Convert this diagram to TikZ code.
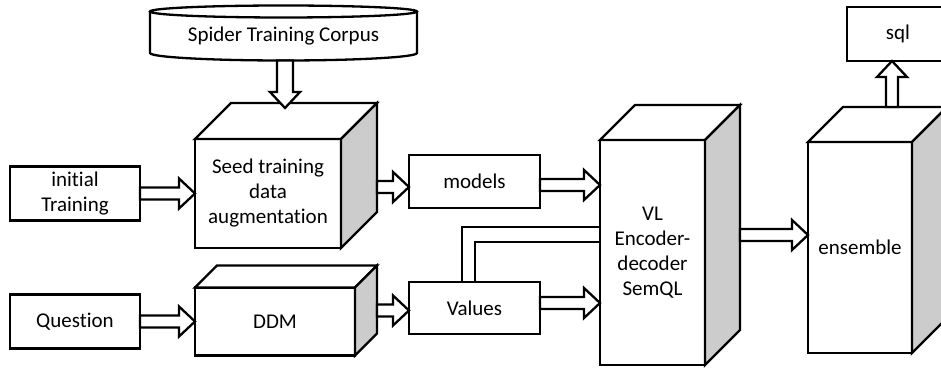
\documentclass[tikz,border=0pt]{standalone}
\usepackage{fontspec}
\setmainfont{Carlito}[Ligatures=NoCommon]
\usetikzlibrary{positioning,calc}

% top and shaded side of a block
\newcommand\cubefaces[2]{%
  \draw[thickline, fill=white] (#1.north west) -- ([shift={(#2,#2)}]#1.north west) -- ([shift={(#2,#2)}]#1.north east) -- (#1.north east) -- cycle;
  \draw[thickline, fill=black!20] (#1.north east) -- ([shift={(#2,#2)}]#1.north east) -- ([shift={(#2,#2)}]#1.south east) -- (#1.south east) -- cycle;
}

\begin{document}
\begin{tikzpicture}[x=1pt, y=1pt, line join=miter]
    \tikzstyle{every node} = [font=\fontsize{21}{25}\selectfont]
    \tikzstyle{thickline} = [draw, line width=2.3pt]
    \tikzstyle{box} = [thickline, fill=white, align=center, outer sep=0pt, inner sep=0pt]
    \tikzset{
      harrow/.style={thickline, fill=white, to path={
        let \p1=(\tikztostart), \p2=(\tikztotarget) in
        (\x1,\y1+#1pt) -- (\x2-16pt,\y1+#1pt) -- (\x2-16pt,\y1+15pt) -- (\x2,\y1)
        -- (\x2-16pt,\y1-15pt) -- (\x2-16pt,\y1-#1pt) -- (\x1,\y1-#1pt) -- cycle}},
      harrow/.default=6,
      varrow/.style={thickline, fill=white, to path={
        let \p1=(\tikztostart), \p2=(\tikztotarget), \n1={ifthenelse(\y2>\y1,16,-16)} in
        (\x1-#1pt,\y1) -- (\x1-#1pt,\y2-\n1) -- (\x1-15pt,\y2-\n1) -- (\x1,\y2)
        -- (\x1+15pt,\y2-\n1) -- (\x1+#1pt,\y2-\n1) -- (\x1+#1pt,\y1) -- cycle}},
      varrow/.default=6
    }

    \useasboundingbox (0,0) rectangle (941,369);
    \clip (0,0) rectangle (941,369);

    % corpus cylinder
    \node (corpus) [minimum width=267pt, minimum height=49pt, inner sep=0pt, outer sep=0pt] at (283.5,333) {Spider Training Corpus};
    \draw[thickline] (corpus.north west) -- ([yshift=7.5pt]corpus.south west) arc[start angle=180, end angle=360, x radius=133.5, y radius=7.5] -- (corpus.north east);
    \draw[thickline, fill=white] (corpus.north) ellipse[x radius=133.5, y radius=6];

    \node (seed) [box, minimum width=146pt, minimum height=109pt] at (268,175.5) {Seed training\\data\\augmentation};
    \cubefaces{seed}{36}
    \node (initial) [box, minimum width=130pt, minimum height=54pt, left=55pt of seed] {initial\\Training};
    \node (question) [box, minimum width=130pt, minimum height=54pt, below=74pt of initial] {Question};
    \node (ddm) [box, minimum width=160pt, minimum height=68pt, right=55pt of question] {DDM};
    \cubefaces{ddm}{22}
    \node (models) [box, minimum width=131pt, minimum height=53pt] at (474.5,187.5) {models};
    \node (values) [box, minimum width=131pt, minimum height=52pt] at (474.5,61) {Values};
    \node (vl) [box, minimum width=105pt, minimum height=225pt] at (652.5,116.5) {VL\\Encoder-\\decoder\\SemQL};
    \cubefaces{vl}{35}
    \node (ensemble) [box, minimum width=104pt, minimum height=211pt] at (860,121.5) {ensemble};
    \cubefaces{ensemble}{35}
    \node (sql) [box, minimum width=102pt, minimum height=54pt] at (898,335) {sql};

    \draw[varrow=8] ([xshift=1.5pt]corpus.south) to ([yshift=31pt]seed.north);
    \draw[harrow] (initial.east) to (seed.west);
    \draw[harrow] (question.east) to (ddm.west);
    \draw[harrow] ([shift={(36,6.5)}]seed.east) to (models.west);
    \draw[harrow] ([shift={(22,11)}]ddm.east) to (values.west);
    \draw[harrow] ([yshift=-3.5pt]models.east) to (vl.west);
    \draw[harrow] ([yshift=5pt]values.east) to (vl.west);
    \draw[harrow] ([shift={(35,17.5)}]vl.east) to (ensemble.west);
    \draw[varrow] ([shift={(32,35)}]ensemble.north) to (sql.south);

    \draw[thickline] ([xshift=-12.5pt]values.north) |- ([yshift=25.5pt]vl.west);
    \draw[thickline] ([xshift=0.5pt]values.north) |- ([yshift=10.5pt]vl.west);
\end{tikzpicture}
\end{document}
